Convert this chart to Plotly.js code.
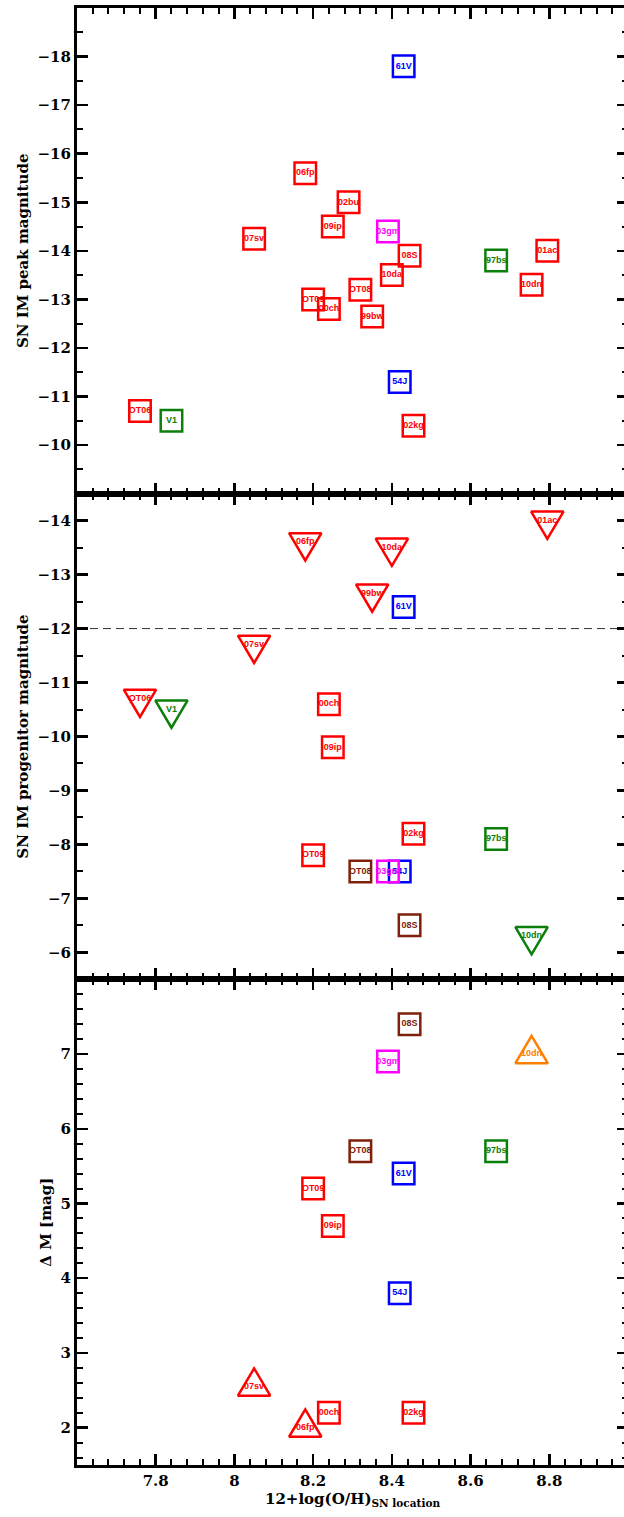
<!DOCTYPE html>
<html><head><meta charset="utf-8">
<script src="https://cdn.plot.ly/plotly-3.0.1.min.js"></script>
<style>html,body{margin:0;padding:0;overflow:hidden;background:#fff}</style>
</head><body>
<div id="chart" style="width:632px;height:1517px"></div>
<script>
// ---- data ----
const names       = ['61V','06fp','02bu','09ip','03gm','07sv','08S','10da','97bs','01ac','10dn','OT08','OT09','00ch','99bw','54J','OT06','V1','02kg'];
const metallicity = [8.43, 8.18, 8.29, 8.25, 8.39, 8.05, 8.445, 8.40, 8.665, 8.795, 8.755, 8.32, 8.20, 8.24, 8.35, 8.42, 7.76, 7.84, 8.455];
const peakMag     = [-17.8,-15.6,-15.0,-14.5,-14.4,-14.25,-13.9,-13.5,-13.8,-14.0,-13.3,-13.2,-13.0,-12.8,-12.65,-11.3,-10.7,-10.5,-10.4];
const peakClass   = ['B','R','R','R','M','R','R','R','G','R','R','R','R','R','R','B','R','G','R'];
const progMag     = [-12.4,-13.6,null,-9.8,-7.5,-11.7,-6.5,-13.5,-8.1,-14.0,-6.3,-7.5,-7.8,-10.6,-12.65,-7.5,-10.7,-10.5,-8.2];
const progClass   = ['B','R',null,'R','M','R','K','R','G','R','G','K','R','R','R','B','R','G','R'];
const progLimit   = [false,true,false,false,false,true,false,true,false,true,true,false,false,false,true,false,true,true,false];
const deltaM      = [5.4,2.0,null,4.7,6.9,2.55,7.4,null,5.7,null,7.0,5.7,5.2,2.2,null,3.8,null,null,2.2];
const deltaClass  = ['B','R',null,'R','M','R','K',null,'G',null,'O','K','R','R',null,'B',null,null,'R'];
const deltaLimit  = [false,true,false,false,false,true,false,false,false,false,true,false,false,false,false,false,false,false,false];
const progThreshold = -12;
const xTicks    = [7.8, 8.0, 8.2, 8.4, 8.6, 8.8];
const peakTicks = [-18,-17,-16,-15,-14,-13,-12,-11,-10];
const progTicks = [-14,-13,-12,-11,-10,-9,-8,-7,-6];
const deltaTicks = [2,3,4,5,6,7];

// ---- style ----
const palette = {R:'#ff0000', B:'#0000ff', G:'#0a800a', M:'#ff00ff', K:'#7f200a', O:'#ff8000'};
const classOrder = ['R','B','G','K','M','O'];
const serif = 'DejaVu Serif, Liberation Serif, serif';

function panelTraces(vals, classes, limits, xa, ya, limitSymbol) {
  const traces = [];
  for (const lim of [false, true]) {
    for (const c of classOrder) {
      const idx = names.map((_, i) => i).filter(i =>
        vals[i] != null && classes[i] === c && (!!(limits && limits[i])) === lim);
      if (!idx.length) continue;
      traces.push({
        type: 'scatter', mode: 'markers+text', xaxis: xa, yaxis: ya,
        x: idx.map(i => metallicity[i]), y: idx.map(i => vals[i]), text: idx.map(i => names[i]),
        textposition: 'middle center',
        textfont: {family: 'Liberation Sans, Arial, sans-serif', size: 9, color: palette[c], weight: 'bold'},
        marker: {symbol: lim ? limitSymbol : 'square-open', size: lim ? 28 : 21.5,
                 color: palette[c], line: {width: 2.5, color: palette[c]}},
        cliponaxis: false, hoverinfo: 'skip', showlegend: false
      });
    }
  }
  return traces;
}

const data = [].concat(
  panelTraces(peakMag, peakClass, null, 'x3', 'y3', 'square-open'),
  panelTraces(progMag, progClass, progLimit, 'x2', 'y2', 'triangle-down-open'),
  panelTraces(deltaM, deltaClass, deltaLimit, 'x', 'y', 'triangle-up-open')
);

function xAxis(anchor, labels) {
  const ax = {
    anchor: anchor, domain: [0, 1], range: [7.6, 9.0],
    tickmode: 'array', tickvals: xTicks, showticklabels: labels,
    ticks: 'inside', ticklen: 11, tickwidth: 2.5, tickcolor: '#000',
    minor: {ticks: 'inside', ticklen: 6, tickwidth: 2, tickcolor: '#000', dtick: 0.04, tick0: 7.6, showgrid: false},
    showline: true, linewidth: 3, linecolor: '#000', mirror: 'allticks',
    showgrid: false, zeroline: false, automargin: false,
    tickfont: {family: serif, size: 15, color: '#000', weight: 'bold'}
  };
  return ax;
}
function yAxis(domain, range, ticks, minorStep, title) {
  return {
    domain: domain, range: range, tickmode: 'array', tickvals: ticks,
    ticks: 'inside', ticklen: 11, tickwidth: 2.5, tickcolor: '#000',
    minor: {ticks: 'inside', ticklen: 6, tickwidth: 2, tickcolor: '#000', dtick: minorStep, tick0: 0, showgrid: false},
    showline: true, linewidth: 3, linecolor: '#000', mirror: 'allticks',
    showgrid: false, zeroline: false, automargin: false,
    tickfont: {family: serif, size: 15, color: '#000', weight: 'bold'},
    title: {text: title, font: {family: serif, size: 15, color: '#000', weight: 'bold'}, standoff: 6}
  };
}

const bx = xAxis('y', true);
bx.title = {text: '12+log(O/H)<sub>SN location</sub>', font: {family: serif, size: 15, color: '#000', weight: 'bold'}, standoff: 2};

const layout = {
  width: 632, height: 1517,
  margin: {l: 77, r: 4, t: 8, b: 52},
  paper_bgcolor: '#fff', plot_bgcolor: '#fff', showlegend: false,
  xaxis: bx,
  xaxis2: xAxis('y2', false),
  xaxis3: xAxis('y3', false),
  yaxis:  yAxis([0, 1/3], [1.5, 8], deltaTicks, 0.2, 'Δ M [mag]'),
  yaxis2: yAxis([1/3, 2/3], [-5.5, -14.5], progTicks, 0.5, 'SN IM progenitor magnitude'),
  yaxis3: yAxis([2/3, 1], [-9, -19], peakTicks, 0.5, 'SN IM peak magnitude'),
  shapes: [{type: 'line', xref: 'x2 domain', yref: 'y2', x0: 0, x1: 1, y0: progThreshold, y1: progThreshold,
            line: {color: '#333', width: 1, dash: '8px,5px'}, layer: 'below'}]
};

Plotly.newPlot('chart', data, layout, {staticPlot: true, displayModeBar: false}).then(gd => {
  gd.querySelectorAll('.scatterlayer path.point').forEach(p => {
    const d = p.getAttribute('d') || '';
    if (d.indexOf('L0,') >= 0) {
      p.setAttribute('transform', (p.getAttribute('transform') || '') + ' scale(1,1.3)');
      p.style.vectorEffect = 'non-scaling-stroke';
    }
  });
});
</script>
</body></html>
